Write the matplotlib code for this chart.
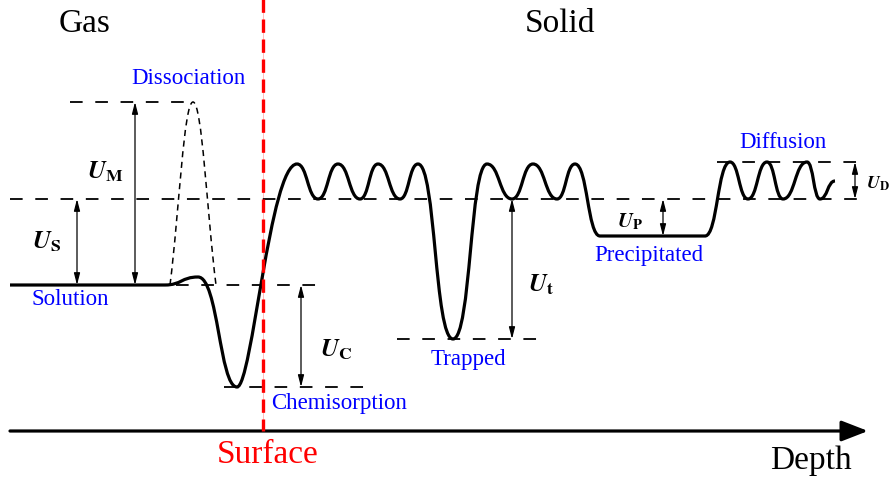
import matplotlib.pyplot as plt
from matplotlib.path import Path
from matplotlib.patches import PathPatch

plt.rcParams['font.family'] = ['Liberation Serif', 'DejaVu Serif']
plt.rcParams['mathtext.fontset'] = 'stix'

# energy levels along the depth profile (y grows downward)
lvl_dissociation = 103
lvl_diffusion_top = 163
lvl_lattice = 200
lvl_precipitated = 237
lvl_solution = 286
lvl_trapped = 340
lvl_chemisorption = 388

# turning points of the potential energy curve
curve_x = [10, 165, 198, 237, 297, 318, 338, 360, 378, 400, 418, 453, 487,
           512, 533, 557, 575, 600, 705, 730, 748, 767, 783, 807, 820, 835]
curve_y = [lvl_solution, lvl_solution, 278, lvl_chemisorption,
           165, lvl_lattice, 165, lvl_lattice, 165, lvl_lattice, 165, lvl_trapped,
           165, lvl_lattice, 165, lvl_lattice, 165, lvl_precipitated, lvl_precipitated,
           lvl_diffusion_top, lvl_lattice, lvl_diffusion_top, lvl_lattice,
           lvl_diffusion_top, lvl_lattice, 182]

# molecular dissociation barrier (dashed)
diss_x = [170, 193, 216]
diss_y = [lvl_solution, lvl_dissociation, lvl_solution]

# reference dashed levels: (y, x_start, x_end)
ref_levels = [
    (lvl_dissociation, 70, 193),
    (lvl_lattice, 10, 860),
    (lvl_solution, 176, 325),
    (lvl_chemisorption, 224, 373),
    (lvl_trapped, 397, 543),
    (lvl_diffusion_top, 717, 868),
]

# energy gaps: (x, y_top, y_bottom, label, label_x, label_y, size)
gaps = [
    (135, lvl_dissociation, lvl_solution, r'$\mathbfit{U}_{\mathbf{M}}$', 105, 172, 18),
    (77, lvl_lattice, lvl_solution, r'$\mathbfit{U}_{\mathbf{S}}$', 47, 242, 18),
    (301, lvl_solution, lvl_chemisorption, r'$\mathbfit{U}_{\mathbf{C}}$', 336, 350, 18),
    (512, lvl_lattice, lvl_trapped, r'$\mathbfit{U}_{\mathbf{t}}$', 541, 285, 18),
    (663, lvl_lattice, lvl_precipitated, r'$\mathbfit{U}_{\mathbf{P}}$', 630, 222, 15),
    (855, lvl_diffusion_top, lvl_lattice, r'$\mathbfit{U}_{\mathbf{D}}$', 866, 184, 13),
]

states = ['Dissociation', 'Solution', 'Chemisorption', 'Trapped', 'Precipitated', 'Diffusion']
state_pos = [(188, 78), (70, 300), (339, 404), (468, 360), (649, 255), (783, 143)]

surface_x = 263
axis_y = 432

# control handle fractions (start, end) for segments that need a sharper shape
seg_shape = {2: (0.52, 0.45), 3: (0.25, 0.45), 10: (0.51, 0.53), 11: (0.53, 0.5)}


def smooth_path(xs, ys, shape=None):
    shape = shape or {}
    verts = [(xs[0], ys[0])]
    codes = [Path.MOVETO]
    for i in range(len(xs) - 1):
        x0, y0, x1, y1 = xs[i], ys[i], xs[i + 1], ys[i + 1]
        ks, ke = shape.get(i, (0.5, 0.5))
        dx = x1 - x0
        verts += [(x0 + ks * dx, y0), (x1 - ke * dx, y1), (x1, y1)]
        codes += [Path.CURVE4] * 3
    return Path(verts, codes)


def barrier_path(xs, ys, k=0.4):
    # straight flanks, rounded cap
    (x0, xt, x1), (y0, yt, y1) = xs, ys
    verts = [(x0, y0),
             (x0 + k * (xt - x0), y0 + k * (yt - y0)), (xt - k * (xt - x0), yt), (xt, yt),
             (xt + k * (x1 - xt), yt), (x1 - k * (x1 - xt), y1 - k * (y1 - yt)), (x1, y1)]
    codes = [Path.MOVETO] + [Path.CURVE4] * 6
    return Path(verts, codes)


fig = plt.figure(figsize=(8.94, 4.81), dpi=100)
ax = fig.add_axes([0, 0, 1, 1])
ax.set_xlim(0, 894)
ax.set_ylim(481, 0)
ax.axis('off')

for y, x0, x1 in ref_levels:
    ax.plot([x0, x1], [y, y], color='black', lw=1.3, ls=(0, (7, 7)), zorder=2)

ax.add_patch(PathPatch(smooth_path(curve_x, curve_y, seg_shape), fc='none', ec='black',
                       lw=2.3, zorder=4))
ax.add_patch(PathPatch(barrier_path(diss_x, diss_y), fc='none', ec='black',
                       lw=1.1, ls=(0, (4, 3)), zorder=3))

# surface marker
ax.plot([surface_x, surface_x], [0, axis_y], color='red', lw=0.6, alpha=0.3, zorder=1)
ax.plot([surface_x, surface_x], [0, axis_y], color='red', lw=2.4, ls=(0, (4, 2)), zorder=5)

for x, y0, y1, lab, lx, ly, fs in gaps:
    ax.annotate('', xy=(x, y0), xytext=(x, y1),
                arrowprops=dict(arrowstyle='<|-|>,head_length=0.7,head_width=0.18',
                                color='black', lw=0.9, shrinkA=0, shrinkB=0), zorder=3)
    ha = 'left' if lx > 860 else 'center'
    ax.text(lx, ly, lab, fontsize=fs, ha=ha, va='center')

for name, (x, y) in zip(states, state_pos):
    ax.text(x, y, name, fontsize=16.5, color='blue', ha='center', va='center')

# depth axis
ax.annotate('', xy=(868, axis_y), xytext=(10, axis_y),
            arrowprops=dict(arrowstyle='-|>,head_length=0.9,head_width=0.35',
                            color='black', lw=2.3, shrinkA=0, shrinkB=0,
                            mutation_scale=18))

ax.text(85, 24, 'Gas', fontsize=24, ha='center', va='center')
ax.text(560, 24, 'Solid', fontsize=24, ha='center', va='center')
ax.text(268, 455, 'Surface', fontsize=24, color='red', ha='center', va='center')
ax.text(811, 461, 'Depth', fontsize=24, ha='center', va='center')

fig.savefig('out.png', dpi=100)
